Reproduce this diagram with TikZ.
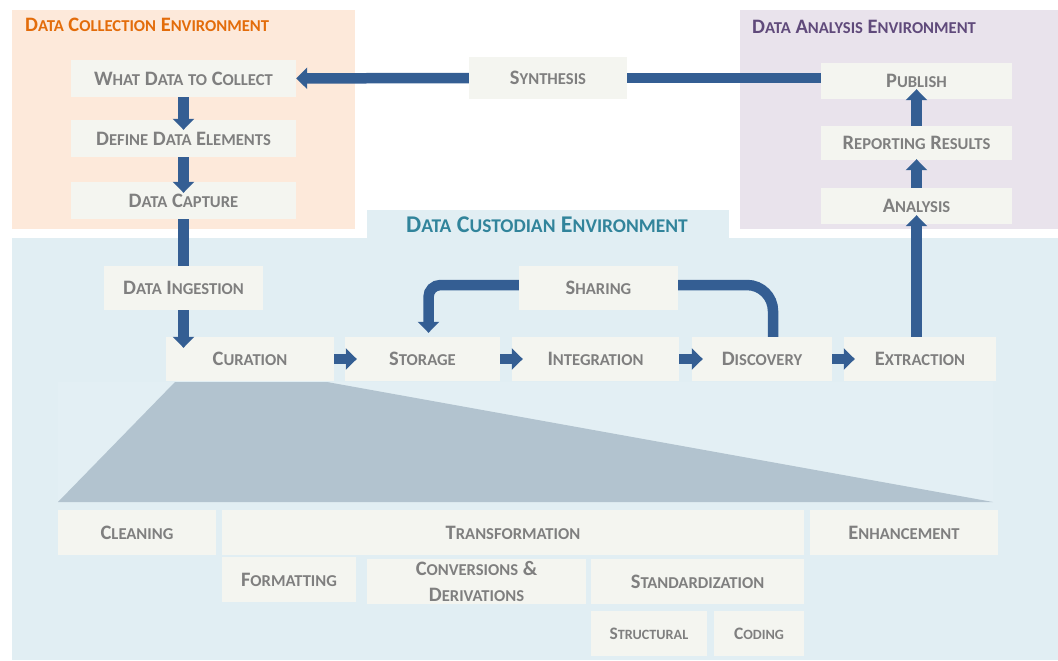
\documentclass[tikz,border=0pt]{standalone}
\usepackage{fontspec}
\setmainfont{Carlito}
\usetikzlibrary{arrows.meta}

\definecolor{collectbg}{HTML}{FDE9DA}
\definecolor{analysisbg}{HTML}{E9E3EC}
\definecolor{custodybg}{HTML}{E1EEF3}
\definecolor{boxbg}{HTML}{F4F5F0}
\definecolor{boxtxt}{HTML}{7F7F7F}
\definecolor{flowblue}{HTML}{345E93}
\definecolor{collecttxt}{HTML}{E36C0A}
\definecolor{analysistxt}{HTML}{604A7B}
\definecolor{custodytxt}{HTML}{31849B}
\definecolor{zoomgray}{HTML}{B2C3CF}
\definecolor{zoomlight}{HTML}{E3EFF4}

\makeatletter
\newcommand\sk[1]{{\fontsize{\fpeval{0.81*\f@size}}{\f@baselineskip}\selectfont\MakeUppercase{#1}}}
\makeatother

\tikzset{
  box/.style={fill=boxbg, text=boxtxt, inner sep=0pt, align=center,
    font=\bfseries\fontsize{20.5}{26}\selectfont},
  smallbox/.style={box, font=\bfseries\fontsize{17.5}{20}\selectfont},
  title/.style={inner sep=0pt, font=\bfseries\fontsize{20.5}{22}\selectfont},
  flow/.style={draw=flowblue, line width=10.5pt, -{Triangle[width=21pt,length=11pt]}},
  link/.style={draw=flowblue, line width=10.5pt},
}

\begin{document}
\begin{tikzpicture}[x=1pt,y=-1pt]
  \useasboundingbox (0,0) rectangle (1058,661);
  % environments
  \fill[collectbg] (12,10) rectangle (355,229);
  \fill[analysisbg] (740,10) rectangle (1058,229);
  \fill[custodybg] (12,238) rectangle (1058,660);
  \fill[custodybg] (367,210) rectangle (729,238);
  \node[title, anchor=base west, text=collecttxt] (collecttitle) at (25,32) {D\sk{ata} C\sk{ollection} E\sk{nvironment}};
  \node[title, anchor=base west, text=analysistxt] (analysistitle) at (752,34) {D\sk{ata} A\sk{nalysis} E\sk{nvironment}};
  \node[title, anchor=base, text=custodytxt, font=\bfseries\fontsize{24}{26}\selectfont] (custodytitle) at (547,232) {D\sk{ata} C\sk{ustodian} E\sk{nvironment}};

  % zoom of curation
  \fill[zoomlight] (58,382) rectangle (993,502);
  \fill[zoomgray] (175,382) -- (327,382) -- (993,502) -- (58,502) -- cycle;

  % collection
  \node[box, minimum width=225pt, minimum height=37pt] (what) at (183.5,78.5) {W\sk{hat} D\sk{ata} \sk{to} C\sk{ollect}};
  \node[box, minimum width=225pt, minimum height=37pt] (define) at (183.5,138.5) {D\sk{efine} D\sk{ata} E\sk{lements}};
  \node[box, minimum width=225pt, minimum height=37pt] (capture) at (183.5,200.5) {D\sk{ata} C\sk{apture}};
  \node[box, minimum width=158pt, minimum height=42pt] (synth) at (548,78) {S\sk{ynthesis}};
  % analysis
  \node[box, minimum width=191pt, minimum height=36pt] (publish) at (916.5,81) {P\sk{ublish}};
  \node[box, minimum width=191pt, minimum height=34pt] (report) at (916.5,143) {R\sk{eporting} R\sk{esults}};
  \node[box, minimum width=191pt, minimum height=36pt] (analysis) at (916.5,206) {A\sk{nalysis}};
  % custodian
  \node[box, minimum width=159pt, minimum height=44pt] (ingest) at (183.5,288) {D\sk{ata} I\sk{ngestion}};
  \node[box, minimum width=159pt, minimum height=44pt] (share) at (598.5,288) {S\sk{haring}};
  \node[box, minimum width=168pt, minimum height=44pt] (curation) at (250,359) {C\sk{uration}};
  \node[box, minimum width=155pt, minimum height=44pt] (storage) at (422.5,359) {S\sk{torage}};
  \node[box, minimum width=167pt, minimum height=44pt] (integ) at (595.5,359) {I\sk{ntegration}};
  \node[box, minimum width=140pt, minimum height=44pt] (disc) at (762,359) {D\sk{iscovery}};
  \node[box, minimum width=152pt, minimum height=44pt] (extr) at (920,359) {E\sk{xtraction}};
  % curation steps
  \node[box, minimum width=158pt, minimum height=45pt] (clean) at (137,532.5) {C\sk{leaning}};
  \node[box, minimum width=582pt, minimum height=45pt] (trans) at (513,532.5) {T\sk{ransformation}};
  \node[box, minimum width=188pt, minimum height=45pt] (enh) at (904,532.5) {E\sk{nhancement}};
  \node[box, minimum width=134pt, minimum height=45pt] (fmt) at (289,579.5) {F\sk{ormatting}};
  \node[box, minimum width=219pt, minimum height=45pt] (conv) at (476.5,581.5) {C\sk{onversions} \&\\D\sk{erivations}};
  \node[box, minimum width=213pt, minimum height=45pt] (std) at (697.5,581.5) {S\sk{tandardization}};
  \node[smallbox, minimum width=116pt, minimum height=45pt] (struct) at (649,633.5) {S\sk{tructural}};
  \node[smallbox, minimum width=90pt, minimum height=45pt] (coding) at (759,633.5) {C\sk{oding}};

  % flows
  \draw[flow, shorten >=-10pt] (what) -- (define);
  \draw[flow, shorten >=-11pt] (define) -- (capture);
  \draw[link] (capture) -- (ingest);
  \draw[flow, shorten >=-11pt] (ingest) -- (ingest |- curation.north);
  \draw[flow, shorten >=-12pt] (curation) -- (storage);
  \draw[flow, shorten >=-11pt] (storage) -- (integ);
  \draw[flow, shorten >=-11pt] (integ) -- (disc);
  \draw[flow, shorten >=-11pt] (disc) -- (extr);
  \draw[flow, shorten >=-9pt] (extr.north -| analysis) -- (analysis);
  \draw[flow, shorten >=-1pt] (analysis) -- (report);
  \draw[flow, shorten >=-10pt] (report) -- (publish);
  \draw[link] (publish.west |- synth) -- (synth.east);
  \draw[flow] (synth) -- (what);
  \draw[flow, rounded corners=12pt] ([yshift=3pt]share.west) -| ([xshift=6pt,yshift=4pt]storage.north);
  \draw[link, rounded corners=26pt] ([yshift=3pt]share.east) -| ([xshift=11pt]disc.north);
\end{tikzpicture}
\end{document}
